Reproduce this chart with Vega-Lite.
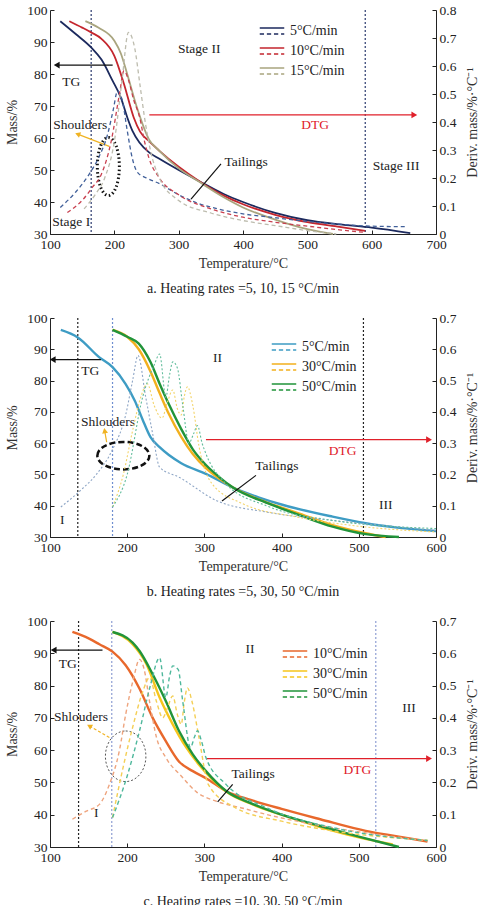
{
"$schema": "https://vega.github.io/schema/vega-lite/v6.json",
"padding": {"left": 5, "top": 3, "right": 2, "bottom": 0},
"spacing": 15,
"config": {
  "view": {"stroke": null},
  "font": "Liberation Serif",
  "axis": {"grid": false, "labelFont": "Liberation Serif", "labelFontSize": 13.5, "labelColor": "#222", "titleFont": "Liberation Serif", "titleFontSize": 14, "titleFontWeight": "normal", "titleColor": "#333", "domainColor": "#222", "tickColor": "#222", "tickSize": -4, "labelPadding": 7, "labelFlush": false, "labelOverlap": false},
  "axisX": {"titlePadding": 6},
  "axisLeft": {"titlePadding": 7},
  "axisRight": {"titlePadding": 10, "titleAngle": -90, "titleBaseline": "top"},
  "legend": {"orient": "none", "title": null, "symbolType": "M-1,-0.25L1,-0.25M-1,0.25L-0.65,0.25M-0.42,0.25L-0.07,0.25M0.16,0.25L0.51,0.25M0.74,0.25L1,0.25", "symbolSize": 600, "symbolStrokeWidth": 1.5, "labelFont": "Liberation Serif", "labelFontSize": 14, "labelColor": "#222", "rowPadding": 0, "labelOffset": 5},
  "title": {"font": "Liberation Serif", "fontSize": 14, "fontWeight": "normal", "color": "#222", "offset": 11},
  "text": {"font": "Liberation Serif", "fontSize": 13.5}
},
"datasets": {
  "a_tg": [
    {"rate":"5°C/min","T":116,"m":96.5},{"rate":"5°C/min","T":140,"m":92.5},{"rate":"5°C/min","T":164,"m":88.3},{"rate":"5°C/min","T":180,"m":84.5},{"rate":"5°C/min","T":197,"m":78},{"rate":"5°C/min","T":210,"m":72.7},{"rate":"5°C/min","T":220,"m":66.5},{"rate":"5°C/min","T":228,"m":62.3},{"rate":"5°C/min","T":239,"m":58.6},{"rate":"5°C/min","T":254,"m":55.5},{"rate":"5°C/min","T":270,"m":53.5},{"rate":"5°C/min","T":300,"m":50},{"rate":"5°C/min","T":332,"m":46.5},{"rate":"5°C/min","T":370,"m":42.5},{"rate":"5°C/min","T":400,"m":40},{"rate":"5°C/min","T":450,"m":36.6},{"rate":"5°C/min","T":500,"m":34.3},{"rate":"5°C/min","T":550,"m":33},{"rate":"5°C/min","T":600,"m":32},{"rate":"5°C/min","T":660,"m":30.3},
    {"rate":"10°C/min","T":130,"m":96.5},{"rate":"10°C/min","T":150,"m":94.5},{"rate":"10°C/min","T":164,"m":93},{"rate":"10°C/min","T":180,"m":91},{"rate":"10°C/min","T":200,"m":85.7},{"rate":"10°C/min","T":215,"m":76.9},{"rate":"10°C/min","T":230,"m":66.5},{"rate":"10°C/min","T":240,"m":62},{"rate":"10°C/min","T":254,"m":59},{"rate":"10°C/min","T":270,"m":56},{"rate":"10°C/min","T":300,"m":51},{"rate":"10°C/min","T":332,"m":46.5},{"rate":"10°C/min","T":370,"m":42},{"rate":"10°C/min","T":400,"m":39.3},{"rate":"10°C/min","T":450,"m":36},{"rate":"10°C/min","T":500,"m":33.7},{"rate":"10°C/min","T":550,"m":32.2},{"rate":"10°C/min","T":590,"m":31},
    {"rate":"15°C/min","T":155,"m":96.5},{"rate":"15°C/min","T":175,"m":94.5},{"rate":"15°C/min","T":200,"m":90.4},{"rate":"15°C/min","T":210,"m":86.5},{"rate":"15°C/min","T":220,"m":80},{"rate":"15°C/min","T":235,"m":69.6},{"rate":"15°C/min","T":254,"m":59.5},{"rate":"15°C/min","T":270,"m":56},{"rate":"15°C/min","T":300,"m":50.5},{"rate":"15°C/min","T":332,"m":46.3},{"rate":"15°C/min","T":370,"m":41.5},{"rate":"15°C/min","T":400,"m":38.3},{"rate":"15°C/min","T":450,"m":34.5},{"rate":"15°C/min","T":500,"m":31.5},{"rate":"15°C/min","T":540,"m":30}
  ],
  "a_dtg": [
    {"rate":"5°C/min","T":116,"d":0.095},{"rate":"5°C/min","T":140,"d":0.15},{"rate":"5°C/min","T":161,"d":0.214},{"rate":"5°C/min","T":175,"d":0.27},{"rate":"5°C/min","T":190,"d":0.36},{"rate":"5°C/min","T":198,"d":0.44},{"rate":"5°C/min","T":205,"d":0.51},{"rate":"5°C/min","T":213,"d":0.47},{"rate":"5°C/min","T":220,"d":0.37},{"rate":"5°C/min","T":228,"d":0.27},{"rate":"5°C/min","T":236,"d":0.22},{"rate":"5°C/min","T":250,"d":0.2},{"rate":"5°C/min","T":270,"d":0.18},{"rate":"5°C/min","T":300,"d":0.14},{"rate":"5°C/min","T":330,"d":0.11},{"rate":"5°C/min","T":360,"d":0.09},{"rate":"5°C/min","T":400,"d":0.072},{"rate":"5°C/min","T":450,"d":0.058},{"rate":"5°C/min","T":500,"d":0.045},{"rate":"5°C/min","T":550,"d":0.035},{"rate":"5°C/min","T":600,"d":0.028},{"rate":"5°C/min","T":656,"d":0.026},
    {"rate":"10°C/min","T":127,"d":0.077},{"rate":"10°C/min","T":150,"d":0.12},{"rate":"10°C/min","T":166,"d":0.167},{"rate":"10°C/min","T":180,"d":0.214},{"rate":"10°C/min","T":195,"d":0.33},{"rate":"10°C/min","T":208,"d":0.5},{"rate":"10°C/min","T":215,"d":0.583},{"rate":"10°C/min","T":222,"d":0.55},{"rate":"10°C/min","T":230,"d":0.48},{"rate":"10°C/min","T":239,"d":0.42},{"rate":"10°C/min","T":247,"d":0.33},{"rate":"10°C/min","T":254,"d":0.27},{"rate":"10°C/min","T":270,"d":0.2},{"rate":"10°C/min","T":300,"d":0.14},{"rate":"10°C/min","T":350,"d":0.09},{"rate":"10°C/min","T":400,"d":0.06},{"rate":"10°C/min","T":450,"d":0.042},{"rate":"10°C/min","T":500,"d":0.028},{"rate":"10°C/min","T":550,"d":0.015},{"rate":"10°C/min","T":588,"d":0.006},
    {"rate":"15°C/min","T":153,"d":0.09},{"rate":"15°C/min","T":170,"d":0.14},{"rate":"15°C/min","T":185,"d":0.2},{"rate":"15°C/min","T":200,"d":0.33},{"rate":"15°C/min","T":212,"d":0.55},{"rate":"15°C/min","T":222,"d":0.72},{"rate":"15°C/min","T":232,"d":0.66},{"rate":"15°C/min","T":240,"d":0.53},{"rate":"15°C/min","T":248,"d":0.4},{"rate":"15°C/min","T":256,"d":0.3},{"rate":"15°C/min","T":270,"d":0.2},{"rate":"15°C/min","T":300,"d":0.12},{"rate":"15°C/min","T":350,"d":0.075},{"rate":"15°C/min","T":400,"d":0.048},{"rate":"15°C/min","T":450,"d":0.03},{"rate":"15°C/min","T":500,"d":0.012},{"rate":"15°C/min","T":545,"d":0}
  ],
  "b_tg": [
    {"rate":"5°C/min","T":114,"m":96.2},{"rate":"5°C/min","T":136,"m":93.8},{"rate":"5°C/min","T":164,"m":87.4},{"rate":"5°C/min","T":181,"m":84.3},{"rate":"5°C/min","T":198,"m":78.9},{"rate":"5°C/min","T":210,"m":73.5},{"rate":"5°C/min","T":220,"m":67.5},{"rate":"5°C/min","T":230,"m":62},{"rate":"5°C/min","T":242,"m":58.7},{"rate":"5°C/min","T":254,"m":56.2},{"rate":"5°C/min","T":270,"m":53.6},{"rate":"5°C/min","T":302,"m":50.2},{"rate":"5°C/min","T":337,"m":45.8},{"rate":"5°C/min","T":370,"m":42.7},{"rate":"5°C/min","T":401,"m":40.3},{"rate":"5°C/min","T":466,"m":36.5},{"rate":"5°C/min","T":509,"m":34.4},{"rate":"5°C/min","T":550,"m":33},{"rate":"5°C/min","T":600,"m":31.9},
    {"rate":"30°C/min","T":181,"m":96.2},{"rate":"30°C/min","T":200,"m":94},{"rate":"30°C/min","T":215,"m":90},{"rate":"30°C/min","T":230,"m":83},{"rate":"30°C/min","T":242,"m":76},{"rate":"30°C/min","T":254,"m":69.3},{"rate":"30°C/min","T":270,"m":62},{"rate":"30°C/min","T":285,"m":56.5},{"rate":"30°C/min","T":302,"m":52},{"rate":"30°C/min","T":320,"m":48.5},{"rate":"30°C/min","T":337,"m":45.8},{"rate":"30°C/min","T":380,"m":41.1},{"rate":"30°C/min","T":401,"m":39.3},{"rate":"30°C/min","T":423,"m":37.5},{"rate":"30°C/min","T":466,"m":33.8},{"rate":"30°C/min","T":509,"m":31.2},{"rate":"30°C/min","T":535,"m":30},
    {"rate":"50°C/min","T":181,"m":96.2},{"rate":"50°C/min","T":200,"m":94},{"rate":"50°C/min","T":215,"m":91.8},{"rate":"50°C/min","T":230,"m":86},{"rate":"50°C/min","T":242,"m":79},{"rate":"50°C/min","T":254,"m":72.4},{"rate":"50°C/min","T":270,"m":64.5},{"rate":"50°C/min","T":285,"m":58},{"rate":"50°C/min","T":302,"m":53},{"rate":"50°C/min","T":320,"m":49},{"rate":"50°C/min","T":337,"m":45.8},{"rate":"50°C/min","T":380,"m":41},{"rate":"50°C/min","T":401,"m":39},{"rate":"50°C/min","T":423,"m":37},{"rate":"50°C/min","T":466,"m":33.3},{"rate":"50°C/min","T":509,"m":30.9},{"rate":"50°C/min","T":552,"m":30}
  ],
  "b_dtg": [
    {"rate":"5°C/min","T":114,"d":0.096},{"rate":"5°C/min","T":140,"d":0.15},{"rate":"5°C/min","T":160,"d":0.2},{"rate":"5°C/min","T":181,"d":0.28},{"rate":"5°C/min","T":198,"d":0.39},{"rate":"5°C/min","T":207,"d":0.5},{"rate":"5°C/min","T":214,"d":0.58},{"rate":"5°C/min","T":224,"d":0.447},{"rate":"5°C/min","T":233,"d":0.33},{"rate":"5°C/min","T":242,"d":0.223},{"rate":"5°C/min","T":268,"d":0.19},{"rate":"5°C/min","T":315,"d":0.117},{"rate":"5°C/min","T":380,"d":0.08},{"rate":"5°C/min","T":466,"d":0.053},{"rate":"5°C/min","T":540,"d":0.035},{"rate":"5°C/min","T":600,"d":0.021},
    {"rate":"30°C/min","T":181,"d":0.096},{"rate":"30°C/min","T":195,"d":0.2},{"rate":"30°C/min","T":207,"d":0.34},{"rate":"30°C/min","T":218,"d":0.45},{"rate":"30°C/min","T":226,"d":0.49},{"rate":"30°C/min","T":235,"d":0.42},{"rate":"30°C/min","T":245,"d":0.38},{"rate":"30°C/min","T":252,"d":0.43},{"rate":"30°C/min","T":259,"d":0.47},{"rate":"30°C/min","T":265,"d":0.41},{"rate":"30°C/min","T":270,"d":0.39},{"rate":"30°C/min","T":274,"d":0.45},{"rate":"30°C/min","T":278,"d":0.48},{"rate":"30°C/min","T":285,"d":0.42},{"rate":"30°C/min","T":293,"d":0.29},{"rate":"30°C/min","T":310,"d":0.17},{"rate":"30°C/min","T":350,"d":0.106},{"rate":"30°C/min","T":420,"d":0.064},{"rate":"30°C/min","T":509,"d":0.032},{"rate":"30°C/min","T":600,"d":0.016},
    {"rate":"50°C/min","T":181,"d":0.096},{"rate":"50°C/min","T":200,"d":0.2},{"rate":"50°C/min","T":220,"d":0.447},{"rate":"50°C/min","T":235,"d":0.55},{"rate":"50°C/min","T":242,"d":0.585},{"rate":"50°C/min","T":250,"d":0.447},{"rate":"50°C/min","T":255,"d":0.52},{"rate":"50°C/min","T":259,"d":0.56},{"rate":"50°C/min","T":265,"d":0.54},{"rate":"50°C/min","T":272,"d":0.42},{"rate":"50°C/min","T":280,"d":0.3},{"rate":"50°C/min","T":286,"d":0.33},{"rate":"50°C/min","T":291,"d":0.356},{"rate":"50°C/min","T":297,"d":0.3},{"rate":"50°C/min","T":302,"d":0.266},{"rate":"50°C/min","T":328,"d":0.17},{"rate":"50°C/min","T":380,"d":0.1},{"rate":"50°C/min","T":466,"d":0.053},{"rate":"50°C/min","T":600,"d":0.027}
  ],
  "c_tg": [
    {"rate":"10°C/min","T":129,"m":96.6},{"rate":"10°C/min","T":150,"m":94.6},{"rate":"10°C/min","T":164,"m":92.8},{"rate":"10°C/min","T":181,"m":90.5},{"rate":"10°C/min","T":198,"m":86.3},{"rate":"10°C/min","T":216,"m":79},{"rate":"10°C/min","T":233,"m":70},{"rate":"10°C/min","T":250,"m":62.8},{"rate":"10°C/min","T":267,"m":56.5},{"rate":"10°C/min","T":285,"m":53.5},{"rate":"10°C/min","T":302,"m":51.3},{"rate":"10°C/min","T":329,"m":47.2},{"rate":"10°C/min","T":360,"m":44.6},{"rate":"10°C/min","T":400,"m":41.8},{"rate":"10°C/min","T":450,"m":38.6},{"rate":"10°C/min","T":509,"m":35},{"rate":"10°C/min","T":550,"m":33.3},{"rate":"10°C/min","T":589,"m":31.7},
    {"rate":"30°C/min","T":181,"m":96.6},{"rate":"30°C/min","T":207,"m":92.8},{"rate":"30°C/min","T":225,"m":86.6},{"rate":"30°C/min","T":242,"m":76.3},{"rate":"30°C/min","T":259,"m":68},{"rate":"30°C/min","T":276,"m":61},{"rate":"30°C/min","T":293,"m":55.5},{"rate":"30°C/min","T":310,"m":51},{"rate":"30°C/min","T":329,"m":47},{"rate":"30°C/min","T":360,"m":43.4},{"rate":"30°C/min","T":400,"m":40},{"rate":"30°C/min","T":450,"m":36.2},{"rate":"30°C/min","T":500,"m":33},{"rate":"30°C/min","T":544,"m":30.8},
    {"rate":"50°C/min","T":181,"m":96.6},{"rate":"50°C/min","T":207,"m":93.3},{"rate":"50°C/min","T":216,"m":90.7},{"rate":"50°C/min","T":233,"m":83.5},{"rate":"50°C/min","T":250,"m":75.2},{"rate":"50°C/min","T":267,"m":66},{"rate":"50°C/min","T":285,"m":58.7},{"rate":"50°C/min","T":302,"m":53.5},{"rate":"50°C/min","T":329,"m":47.2},{"rate":"50°C/min","T":360,"m":43.6},{"rate":"50°C/min","T":400,"m":40},{"rate":"50°C/min","T":450,"m":36.5},{"rate":"50°C/min","T":500,"m":33.2},{"rate":"50°C/min","T":552,"m":30}
  ],
  "c_dtg": [
    {"rate":"10°C/min","T":129,"d":0.086},{"rate":"10°C/min","T":147,"d":0.111},{"rate":"10°C/min","T":164,"d":0.132},{"rate":"10°C/min","T":177,"d":0.194},{"rate":"10°C/min","T":190,"d":0.3},{"rate":"10°C/min","T":198,"d":0.41},{"rate":"10°C/min","T":208,"d":0.52},{"rate":"10°C/min","T":216,"d":0.581},{"rate":"10°C/min","T":222,"d":0.55},{"rate":"10°C/min","T":229,"d":0.45},{"rate":"10°C/min","T":238,"d":0.339},{"rate":"10°C/min","T":250,"d":0.277},{"rate":"10°C/min","T":270,"d":0.22},{"rate":"10°C/min","T":290,"d":0.17},{"rate":"10°C/min","T":315,"d":0.142},{"rate":"10°C/min","T":350,"d":0.12},{"rate":"10°C/min","T":380,"d":0.101},{"rate":"10°C/min","T":466,"d":0.06},{"rate":"10°C/min","T":589,"d":0.019},
    {"rate":"30°C/min","T":181,"d":0.091},{"rate":"30°C/min","T":195,"d":0.25},{"rate":"30°C/min","T":207,"d":0.37},{"rate":"30°C/min","T":220,"d":0.48},{"rate":"30°C/min","T":229,"d":0.525},{"rate":"30°C/min","T":238,"d":0.45},{"rate":"30°C/min","T":246,"d":0.4},{"rate":"30°C/min","T":252,"d":0.43},{"rate":"30°C/min","T":259,"d":0.468},{"rate":"30°C/min","T":265,"d":0.41},{"rate":"30°C/min","T":270,"d":0.38},{"rate":"30°C/min","T":274,"d":0.45},{"rate":"30°C/min","T":278,"d":0.493},{"rate":"30°C/min","T":284,"d":0.45},{"rate":"30°C/min","T":293,"d":0.339},{"rate":"30°C/min","T":305,"d":0.194},{"rate":"30°C/min","T":340,"d":0.122},{"rate":"30°C/min","T":400,"d":0.08},{"rate":"30°C/min","T":466,"d":0.05},{"rate":"30°C/min","T":589,"d":0.021},
    {"rate":"50°C/min","T":181,"d":0.091},{"rate":"50°C/min","T":200,"d":0.22},{"rate":"50°C/min","T":216,"d":0.36},{"rate":"50°C/min","T":230,"d":0.5},{"rate":"50°C/min","T":242,"d":0.586},{"rate":"50°C/min","T":250,"d":0.463},{"rate":"50°C/min","T":255,"d":0.53},{"rate":"50°C/min","T":259,"d":0.561},{"rate":"50°C/min","T":266,"d":0.55},{"rate":"50°C/min","T":272,"d":0.45},{"rate":"50°C/min","T":282,"d":0.308},{"rate":"50°C/min","T":287,"d":0.34},{"rate":"50°C/min","T":291,"d":0.36},{"rate":"50°C/min","T":296,"d":0.33},{"rate":"50°C/min","T":302,"d":0.277},{"rate":"50°C/min","T":328,"d":0.194},{"rate":"50°C/min","T":380,"d":0.122},{"rate":"50°C/min","T":466,"d":0.06},{"rate":"50°C/min","T":589,"d":0.02}
  ],
  "a_txt": [
    {"label":"Stage II","T":332,"m":87.8},{"label":"Stage III","T":638,"m":51.1},{"label":"Stage I","T":133,"m":33.9},{"label":"TG","T":133,"m":77.6},{"label":"Shoulders","T":147,"m":64},{"label":"Tailings","T":405,"m":52.6},{"label":"DTG","T":512,"m":64.2}
  ],
  "b_txt": [
    {"label":"II","T":317,"m":87.2},{"label":"III","T":535,"m":40.1},{"label":"I","T":116,"m":35.5},{"label":"TG","T":152,"m":83},{"label":"Shlouders","T":175,"m":66.9},{"label":"Tailings","T":394,"m":52.7},{"label":"DTG","T":479,"m":57.4}
  ],
  "c_txt": [
    {"label":"II","T":359,"m":91.2},{"label":"III","T":565,"m":73.2},{"label":"I","T":160,"m":40.6},{"label":"TG","T":123,"m":86.8},{"label":"Shlouders","T":140,"m":70.3},{"label":"Tailings","T":363,"m":52.5},{"label":"DTG","T":498,"m":53.7}
  ],
  "a_arr": [
    {"label":"TG","T":197.4,"m":82.8,"T2":110.4,"m2":82.8},{"label":"DTG","T":254.4,"m":67.2,"T2":666.3,"m2":67.2},{"label":"Shoulders","T":192.2,"m":57.4,"T2":143,"m2":61.2},{"label":"Tailings","T":365.8,"m":51.9,"T2":319.2,"m2":40.9}
  ],
  "b_arr": [
    {"label":"TG","T":166,"m":86.7,"T2":103.5,"m2":86.7},{"label":"DTG","T":302,"m":61.1,"T2":591,"m2":61.1},{"label":"Shoulders","T":173.4,"m":60.3,"T2":170.8,"m2":64},{"label":"Tailings","T":366.8,"m":49.7,"T2":322.8,"m2":41.5}
  ],
  "c_arr": [
    {"label":"TG","T":168,"m":91,"T2":104.7,"m2":91},{"label":"DTG","T":302,"m":57.4,"T2":591,"m2":57.4},{"label":"Shoulders","T":176.9,"m":63.9,"T2":151,"m2":67.5},{"label":"Tailings","T":336.6,"m":49.4,"T2":317.2,"m2":44}
  ]
},
"vconcat": [
  {
    "width": 386, "height": 224,
    "title": {"text": "a. Heating rates =5, 10, 15 °C/min", "orient": "bottom"},
    "layer": [
      {"layer": [
        {"data": {"values": [{"T": 164}, {"T": 590}]}, "mark": {"type": "rule", "color": "#2b3a6e", "strokeDash": [2, 2], "strokeWidth": 1.2}, "encoding": {"x": {"field": "T", "type": "quantitative", "scale": {"domain": [100, 700], "nice": false}, "axis": null}}},
        {"data": {"name": "a_tg"}, "mark": {"type": "line", "interpolate": "monotone", "strokeWidth": 1.8},
         "encoding": {
           "x": {"field": "T", "type": "quantitative", "scale": {"domain": [100, 700], "nice": false}, "axis": {"title": "Temperature/°C", "values": [100, 200, 300, 400, 500, 600, 700]}},
           "y": {"field": "m", "type": "quantitative", "scale": {"domain": [30, 100], "zero": false, "nice": false}, "axis": {"title": "Mass/%", "values": [30, 40, 50, 60, 70, 80, 90, 100], "labelOverlap": false}},
           "color": {"field": "rate", "type": "nominal", "sort": null, "scale": {"domain": ["5°C/min", "10°C/min", "15°C/min"], "range": ["#1c2a5e", "#c4262e", "#a9a57f"]}, "legend": {"legendX": 209, "legendY": 8}}
         }},
        {"data": {"name": "a_txt"}, "transform": [{"filter": "datum.label != 'DTG'"}], "mark": {"type": "text", "color": "#222"}, "encoding": {"x": {"field": "T", "type": "quantitative", "axis": null}, "y": {"field": "m", "type": "quantitative", "axis": null}, "text": {"field": "label"}}},
        {"data": {"name": "a_txt"}, "transform": [{"filter": "datum.label == 'DTG'"}], "mark": {"type": "text", "color": "#e0202a"}, "encoding": {"x": {"field": "T", "type": "quantitative", "axis": null}, "y": {"field": "m", "type": "quantitative", "axis": null}, "text": {"field": "label"}}},
        {"data": {"name": "a_arr"}, "transform": [{"filter": "datum.label == 'TG' || datum.label == 'Tailings'"}], "mark": {"type": "rule", "color": "#111", "strokeWidth": 1.2}, "encoding": {"x": {"field": "T", "type": "quantitative", "axis": null}, "x2": {"field": "T2"}, "y": {"field": "m", "type": "quantitative", "axis": null}, "y2": {"field": "m2"}}},
        {"data": {"name": "a_arr"}, "transform": [{"filter": "datum.label == 'DTG'"}], "mark": {"type": "rule", "color": "#e0202a", "strokeWidth": 1.2}, "encoding": {"x": {"field": "T", "type": "quantitative", "axis": null}, "x2": {"field": "T2"}, "y": {"field": "m", "type": "quantitative", "axis": null}, "y2": {"field": "m2"}}},
        {"data": {"name": "a_arr"}, "transform": [{"filter": "datum.label == 'Shoulders'"}], "mark": {"type": "rule", "color": "#f0b323", "strokeWidth": 1.2}, "encoding": {"x": {"field": "T", "type": "quantitative", "axis": null}, "x2": {"field": "T2"}, "y": {"field": "m", "type": "quantitative", "axis": null}, "y2": {"field": "m2"}}},
        {"data": {"name": "a_arr"}, "transform": [{"filter": "datum.label == 'TG'"}], "mark": {"type": "point", "shape": "triangle-left", "filled": true, "color": "#111", "size": 45, "opacity": 1}, "encoding": {"x": {"field": "T2", "type": "quantitative", "axis": null}, "y": {"field": "m2", "type": "quantitative", "axis": null}}},
        {"data": {"name": "a_arr"}, "transform": [{"filter": "datum.label == 'DTG'"}], "mark": {"type": "point", "shape": "triangle-right", "filled": true, "color": "#e0202a", "size": 45, "opacity": 1}, "encoding": {"x": {"field": "T2", "type": "quantitative", "axis": null}, "y": {"field": "m2", "type": "quantitative", "axis": null}}},
        {"data": {"name": "a_arr"}, "transform": [{"filter": "datum.label == 'Shoulders'"}], "mark": {"type": "point", "shape": "triangle-up", "angle": 291, "filled": true, "color": "#f0b323", "size": 35, "opacity": 1}, "encoding": {"x": {"field": "T2", "type": "quantitative", "axis": null}, "y": {"field": "m2", "type": "quantitative", "axis": null}}},
        {"data": {"values": [{"T": 190.7, "m": 51.1}]}, "mark": {"type": "point", "shape": "M0,-1A0.38,1 0 1,1 0,1A0.38,1 0 1,1 0,-1Z", "filled": false, "size": 3364, "color": "#111", "strokeWidth": 3, "strokeDash": [1.5, 2.5], "opacity": 1}, "encoding": {"x": {"field": "T", "type": "quantitative", "axis": null}, "y": {"field": "m", "type": "quantitative", "axis": null}}}
      ],
      "resolve": {"axis": {"x": "independent", "y": "independent"}}},
      {"data": {"name": "a_dtg"}, "mark": {"type": "line", "interpolate": "monotone", "strokeDash": [4, 3], "strokeWidth": 1.3},
       "encoding": {
         "x": {"field": "T", "type": "quantitative", "axis": null},
         "y": {"field": "d", "type": "quantitative", "scale": {"domain": [0, 0.8], "nice": false}, "axis": {"orient": "right", "title": "Deriv. mass/%·°C⁻¹", "values": [0, 0.1, 0.2, 0.3, 0.4, 0.5, 0.6, 0.7, 0.8], "labelOverlap": false, "labelExpr": "datum.value == 0 ? '0' : format(datum.value, '.1f')"}},
         "stroke": {"field": "rate", "type": "nominal", "sort": null, "scale": {"domain": ["5°C/min", "10°C/min", "15°C/min"], "range": ["#41609a", "#c8404f", "#bdbcae"]}, "legend": null}
       }}
    ],
    "resolve": {"scale": {"y": "independent"}, "axis": {"x": "independent"}}
  },
  {
    "width": 386, "height": 219,
    "title": {"text": "b. Heating rates =5, 30, 50 °C/min", "orient": "bottom"},
    "layer": [
      {"layer": [
        {"data": {"values": [{"T": 136}, {"T": 506}]}, "mark": {"type": "rule", "color": "#222", "strokeDash": [2, 2], "strokeWidth": 1.2}, "encoding": {"x": {"field": "T", "type": "quantitative", "scale": {"domain": [100, 600], "nice": false}, "axis": null}}},
        {"data": {"values": [{"T": 181}]}, "mark": {"type": "rule", "color": "#6f8fd0", "strokeDash": [2, 2], "strokeWidth": 1.2}, "encoding": {"x": {"field": "T", "type": "quantitative", "axis": null}}},
        {"data": {"name": "b_tg"}, "mark": {"type": "line", "interpolate": "monotone", "strokeWidth": 2.4},
         "encoding": {
           "x": {"field": "T", "type": "quantitative", "scale": {"domain": [100, 600], "nice": false}, "axis": {"title": "Temperature/°C", "values": [100, 200, 300, 400, 500, 600]}},
           "y": {"field": "m", "type": "quantitative", "scale": {"domain": [30, 100], "zero": false, "nice": false}, "axis": {"title": "Mass/%", "values": [30, 40, 50, 60, 70, 80, 90, 100], "labelOverlap": false}},
           "color": {"field": "rate", "type": "nominal", "sort": null, "scale": {"domain": ["5°C/min", "30°C/min", "50°C/min"], "range": ["#3e9cc4", "#f2b01e", "#21943a"]}, "legend": {"legendX": 221, "legendY": 16}}
         }},
        {"data": {"name": "b_txt"}, "transform": [{"filter": "datum.label != 'DTG'"}], "mark": {"type": "text", "color": "#222"}, "encoding": {"x": {"field": "T", "type": "quantitative", "axis": null}, "y": {"field": "m", "type": "quantitative", "axis": null}, "text": {"field": "label"}}},
        {"data": {"name": "b_txt"}, "transform": [{"filter": "datum.label == 'DTG'"}], "mark": {"type": "text", "color": "#e0202a"}, "encoding": {"x": {"field": "T", "type": "quantitative", "axis": null}, "y": {"field": "m", "type": "quantitative", "axis": null}, "text": {"field": "label"}}},
        {"data": {"name": "b_arr"}, "transform": [{"filter": "datum.label == 'TG' || datum.label == 'Tailings'"}], "mark": {"type": "rule", "color": "#111", "strokeWidth": 1.2}, "encoding": {"x": {"field": "T", "type": "quantitative", "axis": null}, "x2": {"field": "T2"}, "y": {"field": "m", "type": "quantitative", "axis": null}, "y2": {"field": "m2"}}},
        {"data": {"name": "b_arr"}, "transform": [{"filter": "datum.label == 'DTG'"}], "mark": {"type": "rule", "color": "#e0202a", "strokeWidth": 1.2}, "encoding": {"x": {"field": "T", "type": "quantitative", "axis": null}, "x2": {"field": "T2"}, "y": {"field": "m", "type": "quantitative", "axis": null}, "y2": {"field": "m2"}}},
        {"data": {"name": "b_arr"}, "transform": [{"filter": "datum.label == 'Shoulders'"}], "mark": {"type": "rule", "color": "#f0b323", "strokeWidth": 1.2}, "encoding": {"x": {"field": "T", "type": "quantitative", "axis": null}, "x2": {"field": "T2"}, "y": {"field": "m", "type": "quantitative", "axis": null}, "y2": {"field": "m2"}}},
        {"data": {"name": "b_arr"}, "transform": [{"filter": "datum.label == 'TG'"}], "mark": {"type": "point", "shape": "triangle-left", "filled": true, "color": "#111", "size": 45, "opacity": 1}, "encoding": {"x": {"field": "T2", "type": "quantitative", "axis": null}, "y": {"field": "m2", "type": "quantitative", "axis": null}}},
        {"data": {"name": "b_arr"}, "transform": [{"filter": "datum.label == 'DTG'"}], "mark": {"type": "point", "shape": "triangle-right", "filled": true, "color": "#e0202a", "size": 45, "opacity": 1}, "encoding": {"x": {"field": "T2", "type": "quantitative", "axis": null}, "y": {"field": "m2", "type": "quantitative", "axis": null}}},
        {"data": {"name": "b_arr"}, "transform": [{"filter": "datum.label == 'Shoulders'"}], "mark": {"type": "point", "shape": "triangle-up", "angle": 350, "filled": true, "color": "#f0b323", "size": 35, "opacity": 1}, "encoding": {"x": {"field": "T2", "type": "quantitative", "axis": null}, "y": {"field": "m2", "type": "quantitative", "axis": null}}},
        {"data": {"values": [{"T": 195, "m": 56}]}, "mark": {"type": "point", "shape": "M-1,0A1,0.53 0 1,1 1,0A1,0.53 0 1,1 -1,0Z", "filled": false, "size": 2704, "color": "#111", "strokeWidth": 2.5, "strokeDash": [6, 3], "opacity": 1}, "encoding": {"x": {"field": "T", "type": "quantitative", "axis": null}, "y": {"field": "m", "type": "quantitative", "axis": null}}}
      ],
      "resolve": {"axis": {"x": "independent", "y": "independent"}}},
      {"data": {"name": "b_dtg"}, "mark": {"type": "line", "interpolate": "monotone", "strokeDash": [2, 2], "strokeWidth": 1.1},
       "encoding": {
         "x": {"field": "T", "type": "quantitative", "axis": null},
         "y": {"field": "d", "type": "quantitative", "scale": {"domain": [0, 0.7], "nice": false}, "axis": {"orient": "right", "title": "Deriv. mass/%·°C⁻¹", "values": [0, 0.1, 0.2, 0.3, 0.4, 0.5, 0.6, 0.7], "labelOverlap": false, "labelExpr": "datum.value == 0 ? '0' : format(datum.value, '.1f')"}},
         "stroke": {"field": "rate", "type": "nominal", "sort": null, "scale": {"domain": ["5°C/min", "30°C/min", "50°C/min"], "range": ["#8ea6c6", "#f3d46a", "#62bd9c"]}, "legend": null}
       }}
    ],
    "resolve": {"scale": {"y": "independent"}, "axis": {"x": "independent"}}
  },
  {
    "width": 386, "height": 226,
    "title": {"text": "c. Heating rates =10, 30, 50 °C/min", "orient": "bottom"},
    "layer": [
      {"layer": [
        {"data": {"values": [{"T": 137}]}, "mark": {"type": "rule", "color": "#222", "strokeDash": [2, 2], "strokeWidth": 1.2}, "encoding": {"x": {"field": "T", "type": "quantitative", "scale": {"domain": [100, 600], "nice": false}, "axis": null}}},
        {"data": {"values": [{"T": 180}, {"T": 522}]}, "mark": {"type": "rule", "color": "#8f9fd3", "strokeDash": [2, 2], "strokeWidth": 1.2}, "encoding": {"x": {"field": "T", "type": "quantitative", "axis": null}}},
        {"data": {"name": "c_tg"}, "mark": {"type": "line", "interpolate": "monotone", "strokeWidth": 2.4},
         "encoding": {
           "x": {"field": "T", "type": "quantitative", "scale": {"domain": [100, 600], "nice": false}, "axis": {"title": "Temperature/°C", "values": [100, 200, 300, 400, 500, 600]}},
           "y": {"field": "m", "type": "quantitative", "scale": {"domain": [30, 100], "zero": false, "nice": false}, "axis": {"title": "Mass/%", "values": [30, 40, 50, 60, 70, 80, 90, 100], "labelOverlap": false}},
           "color": {"field": "rate", "type": "nominal", "sort": null, "scale": {"domain": ["10°C/min", "30°C/min", "50°C/min"], "range": ["#e8682c", "#f6c51c", "#21943a"]}, "legend": {"legendX": 232, "legendY": 20}}
         }},
        {"data": {"name": "c_txt"}, "transform": [{"filter": "datum.label != 'DTG'"}], "mark": {"type": "text", "color": "#222"}, "encoding": {"x": {"field": "T", "type": "quantitative", "axis": null}, "y": {"field": "m", "type": "quantitative", "axis": null}, "text": {"field": "label"}}},
        {"data": {"name": "c_txt"}, "transform": [{"filter": "datum.label == 'DTG'"}], "mark": {"type": "text", "color": "#e0202a"}, "encoding": {"x": {"field": "T", "type": "quantitative", "axis": null}, "y": {"field": "m", "type": "quantitative", "axis": null}, "text": {"field": "label"}}},
        {"data": {"name": "c_arr"}, "transform": [{"filter": "datum.label == 'TG' || datum.label == 'Tailings'"}], "mark": {"type": "rule", "color": "#111", "strokeWidth": 1.2}, "encoding": {"x": {"field": "T", "type": "quantitative", "axis": null}, "x2": {"field": "T2"}, "y": {"field": "m", "type": "quantitative", "axis": null}, "y2": {"field": "m2"}}},
        {"data": {"name": "c_arr"}, "transform": [{"filter": "datum.label == 'DTG'"}], "mark": {"type": "rule", "color": "#e0202a", "strokeWidth": 1.2}, "encoding": {"x": {"field": "T", "type": "quantitative", "axis": null}, "x2": {"field": "T2"}, "y": {"field": "m", "type": "quantitative", "axis": null}, "y2": {"field": "m2"}}},
        {"data": {"name": "c_arr"}, "transform": [{"filter": "datum.label == 'Shoulders'"}], "mark": {"type": "rule", "color": "#f0b323", "strokeWidth": 1.2, "strokeDash": [3, 2]}, "encoding": {"x": {"field": "T", "type": "quantitative", "axis": null}, "x2": {"field": "T2"}, "y": {"field": "m", "type": "quantitative", "axis": null}, "y2": {"field": "m2"}}},
        {"data": {"name": "c_arr"}, "transform": [{"filter": "datum.label == 'TG'"}], "mark": {"type": "point", "shape": "triangle-left", "filled": true, "color": "#111", "size": 45, "opacity": 1}, "encoding": {"x": {"field": "T2", "type": "quantitative", "axis": null}, "y": {"field": "m2", "type": "quantitative", "axis": null}}},
        {"data": {"name": "c_arr"}, "transform": [{"filter": "datum.label == 'DTG'"}], "mark": {"type": "point", "shape": "triangle-right", "filled": true, "color": "#e0202a", "size": 45, "opacity": 1}, "encoding": {"x": {"field": "T2", "type": "quantitative", "axis": null}, "y": {"field": "m2", "type": "quantitative", "axis": null}}},
        {"data": {"name": "c_arr"}, "transform": [{"filter": "datum.label == 'Shoulders'"}], "mark": {"type": "point", "shape": "triangle-up", "angle": 300, "filled": true, "color": "#f0b323", "size": 35, "opacity": 1}, "encoding": {"x": {"field": "T2", "type": "quantitative", "axis": null}, "y": {"field": "m2", "type": "quantitative", "axis": null}}},
        {"data": {"values": [{"T": 198, "m": 58.1}]}, "mark": {"type": "point", "shape": "M0,-1A0.8,1 0 1,1 0,1A0.8,1 0 1,1 0,-1Z", "filled": false, "size": 2560, "color": "#555", "strokeWidth": 1, "strokeDash": [2, 2], "opacity": 1}, "encoding": {"x": {"field": "T", "type": "quantitative", "axis": null}, "y": {"field": "m", "type": "quantitative", "axis": null}}}
      ],
      "resolve": {"axis": {"x": "independent", "y": "independent"}}},
      {"data": {"name": "c_dtg"}, "mark": {"type": "line", "interpolate": "monotone", "strokeDash": [4, 3], "strokeWidth": 1.4},
       "encoding": {
         "x": {"field": "T", "type": "quantitative", "axis": null},
         "y": {"field": "d", "type": "quantitative", "scale": {"domain": [0, 0.7], "nice": false}, "axis": {"orient": "right", "title": "Deriv. mass/%·°C⁻¹", "values": [0, 0.1, 0.2, 0.3, 0.4, 0.5, 0.6, 0.7], "labelOverlap": false, "labelExpr": "datum.value == 0 ? '0' : format(datum.value, '.1f')"}},
         "stroke": {"field": "rate", "type": "nominal", "sort": null, "scale": {"domain": ["10°C/min", "30°C/min", "50°C/min"], "range": ["#eea47e", "#f4cf55", "#4fb89c"]}, "legend": null}
       }}
    ],
    "resolve": {"scale": {"y": "independent"}, "axis": {"x": "independent"}}
  }
],
"resolve": {"scale": {"color": "independent", "stroke": "independent"}}
}
